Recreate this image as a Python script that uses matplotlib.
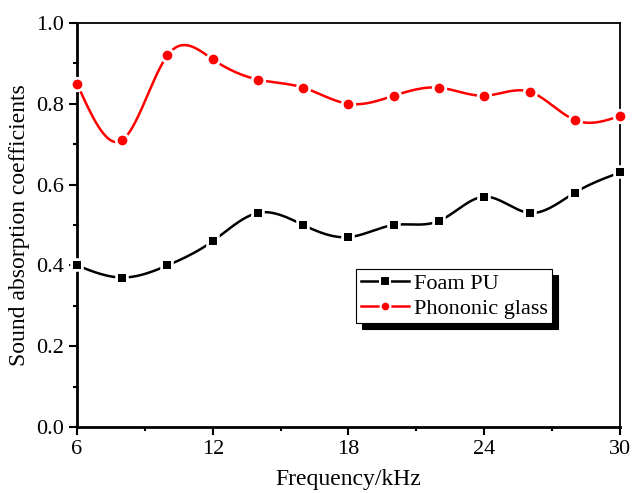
import numpy as np
import matplotlib.pyplot as plt
from matplotlib.ticker import MultipleLocator

plt.rcParams['font.family'] = ['Liberation Serif', 'DejaVu Serif']

# Datos
frecuencia = [6, 8, 10, 12, 14, 16, 18, 20, 22, 24, 26, 28, 30]
foam_pu = [0.40, 0.37, 0.40, 0.46, 0.53, 0.50, 0.47, 0.50, 0.51, 0.57, 0.53, 0.58, 0.63]
phononic = [0.85, 0.71, 0.92, 0.91, 0.86, 0.84, 0.80, 0.82, 0.84, 0.82, 0.83, 0.76, 0.77]


# Spline cubico natural para dibujar la curva suave entre los puntos
def spline(x, y, n=400):
    x = np.asarray(x, float)
    y = np.asarray(y, float)
    m = len(x)
    h = np.diff(x)
    A = np.zeros((m, m))
    b = np.zeros(m)
    A[0, 0] = 1
    A[-1, -1] = 1
    for i in range(1, m - 1):
        A[i, i - 1] = h[i - 1]
        A[i, i] = 2 * (h[i - 1] + h[i])
        A[i, i + 1] = h[i]
        b[i] = 3 * ((y[i + 1] - y[i]) / h[i] - (y[i] - y[i - 1]) / h[i - 1])
    c = np.linalg.solve(A, b)
    xs = np.linspace(x[0], x[-1], n)
    k = np.clip(np.searchsorted(x, xs) - 1, 0, m - 2)
    dx = xs - x[k]
    bb = (y[k + 1] - y[k]) / h[k] - h[k] * (2 * c[k] + c[k + 1]) / 3
    d = (c[k + 1] - c[k]) / (3 * h[k])
    ys = y[k] + bb * dx + c[k] * dx ** 2 + d * dx ** 3
    return xs, ys


fig = plt.figure(figsize=(6.33, 4.93), dpi=100)
ax = fig.add_axes([0.1216, 0.1339, 0.8579, 0.8194])

for datos, color, marca, tam, nombre in [(foam_pu, 'black', 's', 6, 'Foam PU'),
                                         (phononic, 'red', 'o', 7, 'Phononic glass')]:
    xs, ys = spline(frecuencia, datos)
    ax.plot(xs, ys, color=color, lw=1.8, zorder=2)
    # borde blanco para el hueco alrededor del marcador
    ax.plot(frecuencia, datos, ls='none', marker=marca, color=color,
            ms=tam, mec='white', mew=4, zorder=3, clip_on=False)
    ax.plot(frecuencia, datos, ls='none', marker=marca, color=color,
            ms=tam, mec=color, mew=0, zorder=4, clip_on=False)
    # entrada de leyenda
    ax.plot([], [], color=color, lw=1.8, marker=marca, ms=7, mec='white', mew=1.5,
            label=nombre)

ax.set_xlim(6, 30)
ax.set_ylim(0, 1.0)
ax.xaxis.set_major_locator(MultipleLocator(6))
ax.xaxis.set_minor_locator(MultipleLocator(3))
ax.yaxis.set_major_locator(MultipleLocator(0.2))
ax.yaxis.set_minor_locator(MultipleLocator(0.1))
ax.yaxis.set_major_formatter(plt.FormatStrFormatter('%.1f'))
ax.tick_params(which='major', direction='out', length=6, width=1.5, labelsize=16)
ax.tick_params(which='minor', direction='out', length=3, width=1.5)
ax.spines['left'].set_linewidth(2)
ax.spines['bottom'].set_linewidth(2)
ax.spines['top'].set_linewidth(1.3)
ax.spines['right'].set_linewidth(1.3)

ax.set_xlabel('Frequency/kHz', fontsize=17, labelpad=7)
ax.set_ylabel('Sound absorption coefficients', fontsize=17, labelpad=4)

leg = ax.legend(loc='upper left', bbox_to_anchor=(0.514, 0.392), fontsize=16,
                frameon=True, fancybox=False, edgecolor='black',
                shadow={'color': 'black', 'alpha': 1, 'ox': 4.3, 'oy': -4.3},
                borderpad=0.2, handlelength=2.2, handletextpad=0.2,
                labelspacing=0.2, borderaxespad=0)
leg.get_frame().set_linewidth(0.8)

plt.savefig('out.png', dpi=100)
